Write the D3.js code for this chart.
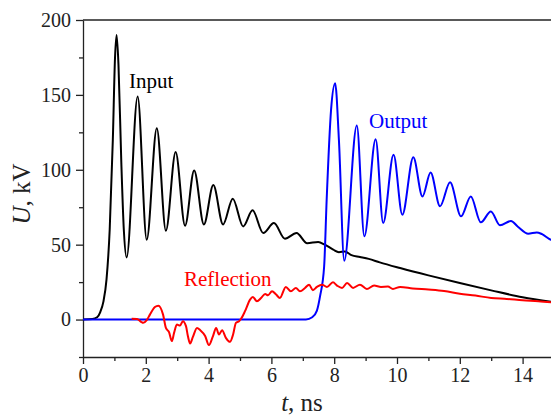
<!DOCTYPE html>
<html>
<head>
<meta charset="utf-8">
<script src="https://cdn.jsdelivr.net/npm/d3@7"></script>
<style>
  body { margin: 0; background: #fff; }
  text { font-family: 'Liberation Serif', 'Times New Roman', serif; }
  .axis path, .axis line { stroke: #222; stroke-width: 1.3; }
</style>
</head>
<body>
<div id="chart"></div>
<script>
// t (ns), U (kV)
const inputData = [
  [0, 0], [0.3, 0.3], [0.45, 1.5], [0.55, 5], [0.65, 12], [0.75, 27], [0.85, 60],
  [0.95, 120], [1.02, 175], [1.07, 190], [1.13, 170], [1.22, 105], [1.3, 60],
  [1.39, 41.5], [1.74, 149], [2.03, 53.3], [2.35, 127.8], [2.64, 59.3],
  [2.95, 111.8], [3.25, 62.7], [3.54, 99.6], [3.85, 63.5], [4.15, 89.8],
  [4.46, 63.5], [4.77, 80.7], [5.1, 62.2], [5.4, 72.9], [5.74, 57.8],
  [6.08, 64.4], [6.43, 54], [6.8, 57.8], [7.14, 51], [7.49, 51.8], [7.7, 50],
  [7.97, 46.7], [8.15, 45], [8.34, 45.4], [8.55, 43], [8.82, 41.8], [9.1, 40.5],
  [9.45, 38.2], [10.1, 34.4], [11, 29.5], [12, 24.4], [13, 19.5], [14, 14.9],
  [15, 11.6]
]

const outputData = [
  [0, 0], [7.1, 0], [7.3, 1.5], [7.45, 6], [7.55, 15.6], [7.68, 35.6],
  [7.76, 80], [7.9, 140], [8.03, 157.8], [8.15, 120], [8.32, 39.3],
  [8.72, 129.6], [8.96, 55.6], [9.32, 120.4], [9.56, 64.4], [9.89, 110],
  [10.17, 70], [10.52, 108.4], [10.81, 82.2], [11.07, 98.2], [11.37, 75.6],
  [11.69, 91.6], [12.04, 68.9], [12.35, 82.2], [12.67, 64.9], [12.99, 72.2],
  [13.28, 62.9], [13.63, 65.8], [13.85, 62], [14.18, 57.3], [14.45, 58.2],
  [14.62, 57], [14.9, 53.3], [15, 53]
]

const reflectionData = [
  [1.55, 0.5], [1.72, 0.4], [1.85, -1.5], [1.92, -2.2], [2.03, -0.4], [2.13, 3.3],
  [2.29, 8.4], [2.4, 9.3], [2.55, 3.3], [2.64, -5.6], [2.74, -8.4], [2.83, -14.4],
  [2.9, -8.9], [2.99, -3.3], [3.09, -4], [3.18, -1.1], [3.28, -4.4], [3.34, -11],
  [3.41, -16], [3.5, -11.6], [3.63, -5.6], [3.73, -7], [3.89, -11], [4.01, -17],
  [4.14, -11], [4.24, -5.6], [4.33, -10], [4.43, -7.1], [4.55, -12.2], [4.68, -14.9],
  [4.78, -10], [4.87, -2.2], [4.97, -1.1], [5.03, 0.4], [5.16, 5.6], [5.32, 13.3],
  [5.41, 15.1], [5.54, 12.2], [5.67, 14.4], [5.8, 17.1], [5.89, 16.2], [6.02, 18.9],
  [6.15, 16.7], [6.27, 14.4], [6.46, 21.8], [6.62, 18.9], [6.78, 21.1], [6.91, 18.9],
  [7.07, 21.1], [7.2, 23.3], [7.32, 19.6], [7.45, 21.8], [7.61, 23.3], [7.77, 21.8],
  [7.96, 24.9], [8.09, 22.7], [8.25, 21.1], [8.41, 24.4], [8.6, 21.1], [8.82, 23.3],
  [9.04, 20.4], [9.27, 22.7], [9.49, 21.8], [9.71, 22], [9.87, 20.4], [10.1, 21.8],
  [10.5, 20.8], [11, 20], [11.5, 19], [12, 17.3], [12.5, 16], [13, 14.4],
  [13.5, 13.8], [14, 12.9], [14.5, 12.3], [15, 11.4]
]

const xMajorTicks = [0, 2, 4, 6, 8, 10, 12, 14]
const xMinorTicks = [1, 3, 5, 7, 9, 11, 13, 15]
const yMajorTicks = [0, 50, 100, 150, 200]
const yMinorTicks = [-25, 25, 75, 125, 175]

const serif = "'Liberation Serif', 'Times New Roman', serif"

const margin = { top: 20, left: 83, right: -3, bottom: 58 }
const height = 415 - margin.top - margin.bottom
const width = 551 - margin.left - margin.right

const svg = d3
  .select('#chart')
  .append('svg')
  .attr('height', 415)
  .attr('width', 551)
  .append('g')
  .attr('transform', 'translate(' + margin.left + ',' + margin.top + ')')

const xPositionScale = d3.scaleLinear().domain([0, 15]).range([0, width])
const yPositionScale = d3.scaleLinear().domain([-25, 200]).range([height, 0])

const line = d3
  .line()
  .x(d => xPositionScale(d[0]))
  .y(d => yPositionScale(d[1]))
  .curve(d3.curveMonotoneX)

// axes
svg
  .append('g')
  .attr('class', 'axis x-axis')
  .attr('transform', 'translate(0,' + height + ')')
  .call(d3.axisBottom(xPositionScale).tickValues(xMajorTicks).tickSize(7).tickSizeOuter(0).tickPadding(4))
svg
  .append('g')
  .attr('class', 'axis x-minor')
  .attr('transform', 'translate(0,' + height + ')')
  .call(d3.axisBottom(xPositionScale).tickValues(xMinorTicks).tickSize(4).tickFormat(''))
svg.selectAll('.x-minor path').remove()

svg
  .append('g')
  .attr('class', 'axis y-axis')
  .call(d3.axisLeft(yPositionScale).tickValues(yMajorTicks).tickSize(7).tickSizeOuter(0).tickPadding(5))
svg
  .append('g')
  .attr('class', 'axis y-minor')
  .call(d3.axisLeft(yPositionScale).tickValues(yMinorTicks).tickSize(4).tickFormat(''))
svg.selectAll('.y-minor path').remove()

svg
  .selectAll('.axis')
  .attr('font-family', serif)
  .attr('font-size', 20)
svg
  .selectAll('.axis text')
  .style('font-family', serif)
  .style('font-size', '20px')
  .attr('fill', '#222')

// top frame
svg
  .append('line')
  .attr('x1', 0)
  .attr('x2', width)
  .attr('y1', yPositionScale(200))
  .attr('y2', yPositionScale(200))
  .attr('stroke', '#222')
  .attr('stroke-width', 1.3)

// curves
svg
  .append('path')
  .datum(inputData)
  .attr('d', line)
  .attr('fill', 'none')
  .attr('stroke', '#000')
  .attr('stroke-width', 2)
svg
  .append('path')
  .datum(outputData)
  .attr('d', line)
  .attr('fill', 'none')
  .attr('stroke', '#0000ff')
  .attr('stroke-width', 2)
svg
  .append('path')
  .datum(reflectionData)
  .attr('d', line)
  .attr('fill', 'none')
  .attr('stroke', '#ff0000')
  .attr('stroke-width', 2)

// labels
svg
  .append('text')
  .attr('x', 46)
  .attr('y', 68)
  .text('Input')
  .style('font-size', '21px')
  .attr('fill', '#000')
svg
  .append('text')
  .attr('x', 286)
  .attr('y', 108)
  .text('Output')
  .style('font-size', '21px')
  .attr('fill', '#0000ff')
svg
  .append('text')
  .attr('x', 101)
  .attr('y', 266)
  .text('Reflection')
  .style('font-size', '21px')
  .attr('fill', '#ff0000')

// axis titles
const xTitle = svg
  .append('text')
  .attr('x', 219)
  .attr('y', 391)
  .attr('text-anchor', 'middle')
  .style('font-size', '25px')
  .attr('fill', '#222')
xTitle.append('tspan').style('font-style', 'italic').text('t')
xTitle.append('tspan').text(', ns')

const yTitle = svg
  .append('text')
  .attr('transform', 'translate(-53,174) rotate(-90)')
  .attr('text-anchor', 'middle')
  .style('font-size', '25px')
  .attr('fill', '#222')
yTitle.append('tspan').style('font-style', 'italic').text('U')
yTitle.append('tspan').text(', kV')
</script>
</body>
</html>
